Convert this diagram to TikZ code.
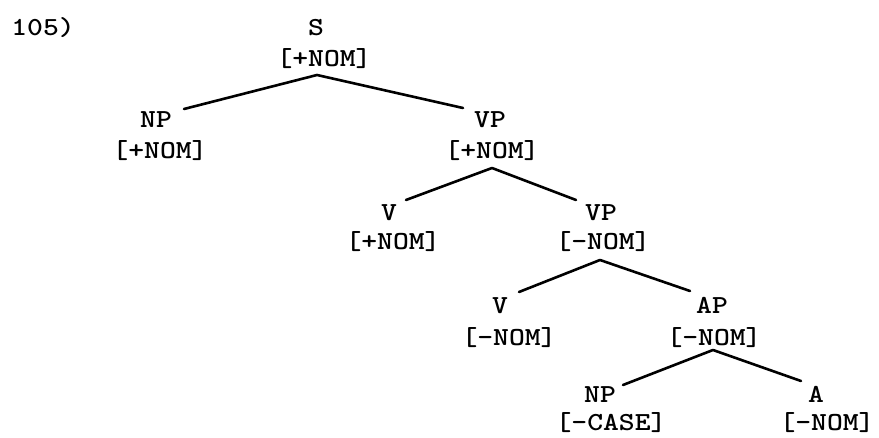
\documentclass[tikz,border=0pt]{standalone}
\usepackage{fontspec}
\IfFontExistsTF{lmmonolt10-bold.otf}
  {\newfontfamily\twfont{lmmonolt10-bold.otf}[FakeStretch=1.16]}
  {\newfontfamily\twfont{Liberation Mono}}
\tikzset{
  lbl/.style={inner sep=0pt, anchor=base, font=\twfont\fontsize{26}{30}\selectfont},
  branch/.style={line width=2.6pt, line cap=round, line join=round}
}
\begin{document}
\begin{tikzpicture}[x=1pt,y=-1pt]
\useasboundingbox[fill=white] (0,0) rectangle (879,438);
% example number
\node[lbl] (num) at (43,35.5) {105)};
% level 1
\node[lbl] (s) at (316,36) {S};
\node[lbl] (sf) at (324,67) {[+NOM]};
% level 2
\node[lbl] (np1) at (156,127.5) {NP};
\node[lbl] (np1f) at (160,158.5) {[+NOM]};
\node[lbl] (vp1) at (490,127.5) {VP};
\node[lbl] (vp1f) at (492,158.5) {[+NOM]};
% level 3
\node[lbl] (v1) at (389,220.5) {V};
\node[lbl] (v1f) at (393,249.5) {[+NOM]};
\node[lbl] (vp2) at (601,220.5) {VP};
\node[lbl] (vp2f) at (603,249.5) {[-NOM]};
% level 4
\node[lbl] (v2) at (500,313.5) {V};
\node[lbl] (v2f) at (509,345.5) {[-NOM]};
\node[lbl] (ap) at (712,313.5) {AP};
\node[lbl] (apf) at (714,345.5) {[-NOM]};
% level 5
\node[lbl] (np2) at (600,402.5) {NP};
\node[lbl] (np2f) at (611,431) {[-CASE]};
\node[lbl] (a) at (816,402.5) {A};
\node[lbl] (af) at (827,431) {[-NOM]};
% branch points
\coordinate (sTop) at (317,75);
\coordinate (np1End) at (184,109);
\coordinate (vp1End) at (463,108);
\coordinate (vp1Top) at (492,168);
\coordinate (v1End) at (406,200);
\coordinate (vp2End) at (576,200);
\coordinate (vp2Top) at (600,260);
\coordinate (v2End) at (519,292);
\coordinate (apEnd) at (690,291);
\coordinate (apTop) at (713,350);
\coordinate (np2End) at (623,385);
\coordinate (aEnd) at (801,381);
% branches
\draw[branch] (np1End) -- (sTop) -- (vp1End);
\draw[branch] (v1End) -- (vp1Top) -- (vp2End);
\draw[branch] (v2End) -- (vp2Top) -- (apEnd);
\draw[branch] (np2End) -- (apTop) -- (aEnd);
\end{tikzpicture}
\end{document}
